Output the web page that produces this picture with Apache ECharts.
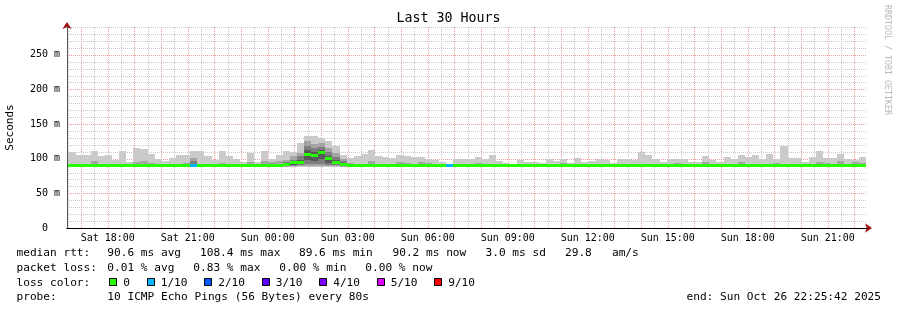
<!DOCTYPE html>
<html><head><meta charset="utf-8">
<script src="https://cdn.jsdelivr.net/npm/echarts@6/dist/echarts.min.js"></script>
<style>html,body{margin:0;padding:0;background:#fff}#c{width:897px;height:310px}</style>
</head><body><div id="c"></div>
<script>
// ---- axis ranges / ticks (hours since Sat 00:00) ----
const AXIS_START_HOUR = 16.47;
const AXIS_END_HOUR = 46.47;
const BUCKET_T0 = 16.29;          // start of first 16-minute bucket
const BUCKET_HOURS = 16 / 60;
const xLabelHours = [18, 21, 24, 27, 30, 33, 36, 39, 42, 45];
const majorHourLines = [17,18,19,20,21,22,23,24,25,26,27,28,29,30,31,32,33,34,35,36,37,38,39,40,41,42,43,44,45,46];
const minorHalfHourLines = [16.5,17.5,18.5,19.5,20.5,21.5,22.5,23.5,24.5,25.5,26.5,27.5,28.5,29.5,30.5,31.5,32.5,33.5,34.5,35.5,36.5,37.5,38.5,39.5,40.5,41.5,42.5,43.5,44.5,45.5];
const yLabelValues = [0, 50, 100, 150, 200, 250];
const yMajorLines = [50, 100, 150, 200, 250];
const yMinorLines = [10,20,30,40,60,70,80,90,110,120,130,140,160,170,180,190,210,220,230,240,260,270,280,290];
const Y_MAX = 290;

// ---- per-bucket data (ms) ----
const medianRtt = [
 89.8,89.8,89.8,89.8,90.2,89.8,89.8,89.8,89.8,89.8,
 89.8,89.8,90.0,89.8,89.8,89.8,89.8,89.8,89.8,89.8,
 89.8,89.8,89.8,89.8,89.8,89.8,89.8,89.8,90.5,89.6,
 90.0,92.3,94.4,95.2,106.0,104.3,108.4,99.7,94.4,92.0,
 89.6,89.8,89.8,89.8,89.8,89.8,89.8,89.8,89.8,89.8,
 89.8,89.8,89.8,89.8,89.8,89.8,89.8,89.8,89.8,89.8,
 89.8,89.8,89.8,89.8,89.8,89.8,89.8,89.8,89.8,89.8,
 89.8,89.8,89.8,89.8,89.8,89.8,89.8,89.8,89.8,89.8,
 89.8,89.8,89.8,89.8,89.8,89.8,89.8,89.8,89.8,89.8,
 89.8,89.8,89.8,89.8,89.8,89.8,89.8,89.8,89.8,89.8,
 89.8,89.8,89.8,89.8,89.8,89.8,90.2,90.2,90.2,90.2,
 90.2,90.2,90.2];
const lossCount = [
 0,0,0,0,0,0,0,0,0,0, 0,0,0,0,0,0,0,0,1,0,
 0,0,0,0,0,0,0,0,0,0, 0,0,0,0,0,0,0,0,0,0,
 0,0,0,0,0,0,0,0,0,0, 0,0,0,0,1,0,0,0,0,0,
 0,0,0,0,0,0,0,0,0,0, 0,0,0,0,0,0,0,0,0,0,
 0,0,0,0,0,0,0,0,0,0, 0,0,0,0,0,0,0,0,0,0,
 0,0,0,0,0,0,0,0,0,0, 0,0,0];
// sorted ping ranks: ping1 lowest ... ping10 highest
const ping1 = [
 88.2,88.2,88.2,88.2,88.2,88.2,88.2,88.2,88.2,88.2,
 88.2,88.2,88.2,88.2,88.2,88.2,88.2,88.2,88.2,88.2,
 88.2,88.2,88.2,88.2,88.2,88.2,88.2,88.2,88.2,88.2,
 88.2,88.4,88.5,88.5,88.5,88.5,88.5,88.5,88.5,88.4,
 88.2,88.2,88.2,88.2,88.2,88.2,88.2,88.2,88.2,88.2,
 88.2,88.2,88.2,88.2,88.2,88.2,88.2,88.2,88.2,88.2,
 88.2,88.2,88.2,88.2,88.2,88.2,88.2,88.2,88.2,88.2,
 88.2,88.2,88.2,88.2,88.2,88.2,88.2,88.2,88.2,88.2,
 88.2,88.2,88.2,88.2,88.2,88.2,88.2,88.2,88.2,88.2,
 88.2,88.2,88.2,88.2,88.2,88.2,88.2,88.2,88.2,88.2,
 88.2,88.2,88.2,88.2,88.2,88.2,88.2,88.2,88.2,88.2,
 88.2,88.2,88.2];
const ping2 = [
 88.5,88.5,88.5,88.5,88.5,88.5,88.5,88.5,88.5,88.5,
 88.5,88.5,88.5,88.5,88.5,88.5,88.5,88.5,88.5,88.5,
 88.5,88.5,88.5,88.5,88.5,88.5,88.5,88.5,88.5,88.5,
 88.5,88.5,89.3,89.3,89.3,89.3,89.3,89.3,89.3,88.5,
 88.5,88.5,88.5,88.5,88.5,88.5,88.5,88.5,88.5,88.5,
 88.5,88.5,88.5,88.5,88.5,88.5,88.5,88.5,88.5,88.5,
 88.5,88.5,88.5,88.5,88.5,88.5,88.5,88.5,88.5,88.5,
 88.5,88.5,88.5,88.5,88.5,88.5,88.5,88.5,88.5,88.5,
 88.5,88.5,88.5,88.5,88.5,88.5,88.5,88.5,88.5,88.5,
 88.5,88.5,88.5,88.5,88.5,88.5,88.5,88.5,88.5,88.5,
 88.5,88.5,88.5,88.5,88.5,88.5,88.5,88.5,88.5,88.5,
 88.5,88.5,88.5];
const ping3 = [
 88.8,88.8,88.8,88.8,88.8,88.8,88.8,88.8,88.8,88.8,
 88.8,88.8,88.8,88.8,88.8,88.8,88.8,88.8,88.8,88.8,
 88.8,88.8,88.8,88.8,88.8,88.8,88.8,88.8,88.8,88.8,
 88.8,88.8,90.0,91.0,92.0,92.0,92.0,91.0,90.5,88.8,
 88.8,88.8,88.8,88.8,88.8,88.8,88.8,88.8,88.8,88.8,
 88.8,88.8,88.8,88.8,88.8,88.8,88.8,88.8,88.8,88.8,
 88.8,88.8,88.8,88.8,88.8,88.8,88.8,88.8,88.8,88.8,
 88.8,88.8,88.8,88.8,88.8,88.8,88.8,88.8,88.8,88.8,
 88.8,88.8,88.8,88.8,88.8,88.8,88.8,88.8,88.8,88.8,
 88.8,88.8,88.8,88.8,88.8,88.8,88.8,88.8,88.8,88.8,
 88.8,88.8,88.8,88.8,88.8,88.8,88.8,88.8,88.8,88.8,
 88.8,88.8,88.8];
const ping4 = [
 89.1,89.1,89.1,89.1,89.1,89.1,89.1,89.1,89.1,89.1,
 89.1,89.1,89.1,89.1,89.1,89.1,89.1,89.1,89.1,89.1,
 89.1,89.1,89.1,89.1,89.1,89.1,89.1,89.1,89.1,89.1,
 89.1,89.1,91.5,92.5,98.0,96.0,99.0,94.0,92.0,90.0,
 89.1,89.1,89.1,89.1,89.1,89.1,89.1,89.1,89.1,89.1,
 89.1,89.1,89.1,89.1,89.1,89.1,89.1,89.1,89.1,89.1,
 89.1,89.1,89.1,89.1,89.1,89.1,89.1,89.1,89.1,89.1,
 89.1,89.1,89.1,89.1,89.1,89.1,89.1,89.1,89.1,89.1,
 89.1,89.1,89.1,89.1,89.1,89.1,89.1,89.1,89.1,89.1,
 89.1,89.1,89.1,89.1,89.1,89.1,89.1,89.1,89.1,89.1,
 89.1,89.1,89.1,89.1,89.1,89.1,89.1,89.1,89.1,89.1,
 89.1,89.1,89.1];
const ping7 = [
 90.2,90.2,90.2,90.2,90.2,90.2,90.2,90.2,90.2,90.2,
 90.2,90.2,90.2,90.2,90.2,90.2,90.2,90.2,90.2,90.2,
 90.2,90.2,90.2,90.2,90.2,90.2,90.2,90.2,91.5,90.2,
 91.0,93.5,96.0,98.8,113.0,110.0,112.0,104.0,98.0,93.5,
 90.2,90.2,90.2,90.2,90.2,90.2,90.2,90.2,90.2,90.2,
 90.2,90.2,90.2,90.2,90.2,90.2,90.2,90.2,90.2,90.2,
 90.2,90.2,90.2,90.2,90.2,90.2,90.2,90.2,90.2,90.2,
 90.2,90.2,90.2,90.2,90.2,90.2,90.2,90.2,90.2,90.2,
 90.2,90.2,90.2,90.2,90.2,90.2,90.2,90.2,90.2,90.2,
 90.2,90.2,90.2,90.2,90.2,90.2,90.2,90.2,90.2,90.2,
 90.2,90.2,90.2,90.2,90.2,90.2,90.2,90.2,90.2,90.2,
 90.2,90.2,90.2];
const ping8 = [
 90.6,90.6,90.6,90.6,90.6,90.6,90.6,90.6,90.6,90.6,
 90.6,90.6,90.6,90.6,90.6,90.6,90.6,90.6,96.0,90.6,
 90.6,90.6,90.6,90.6,90.6,90.6,90.6,90.6,93.0,90.6,
 92.0,95.0,98.8,103.6,118.0,115.0,117.0,110.0,103.0,96.0,
 90.6,90.6,90.6,90.6,90.6,90.6,90.6,90.6,90.6,90.6,
 90.6,90.6,90.6,90.6,90.6,90.6,90.6,90.6,90.6,90.6,
 90.6,90.6,90.6,90.6,90.6,90.6,90.6,90.6,90.6,90.6,
 90.6,90.6,90.6,90.6,90.6,90.6,90.6,90.6,90.6,90.6,
 90.6,90.6,90.6,90.6,90.6,90.6,90.6,90.6,90.6,90.6,
 90.6,90.6,90.6,90.6,90.6,90.6,90.6,90.6,90.6,90.6,
 90.6,90.6,90.6,90.6,90.6,90.6,90.6,90.6,90.6,90.6,
 90.6,90.6,90.6];
const ping9 = [
 93.0,93.0,91.6,91.6,96.0,91.6,93.0,91.6,91.6,91.6,
 95.0,96.0,94.0,91.6,91.6,91.6,91.6,94.0,101.0,91.6,
 91.6,91.6,94.0,91.6,91.6,91.6,95.0,93.0,97.0,95.0,
 96.3,98.8,103.6,108.4,125.0,121.0,122.0,115.0,108.0,99.0,
 94.0,91.6,91.6,96.0,91.6,91.6,91.6,95.0,94.0,91.6,
 95.0,94.0,91.6,93.0,91.6,91.6,91.6,91.6,94.0,91.6,
 91.6,91.6,91.6,91.6,91.6,91.6,91.6,91.6,91.6,91.6,
 94.5,91.6,91.6,91.6,91.6,91.6,91.6,91.6,91.6,91.6,
 91.6,91.6,91.6,91.6,91.6,91.6,94.0,91.6,91.6,91.6,
 95.0,91.6,91.6,91.6,91.6,95.0,91.6,91.6,91.6,91.6,
 94.0,91.6,91.6,91.6,91.6,91.6,95.0,94.0,91.6,96.0,
 91.6,95.0,94.0];
const ping10 = [
 109.0,109.0,105.5,105.5,111.3,104.0,105.5,98.3,110.4,95.4,
 115.6,114.2,107.0,99.8,96.9,101.2,105.5,105.5,110.4,111.3,
 104.0,98.3,110.4,104.0,99.8,95.4,108.5,95.4,110.4,100.0,
 105.9,110.8,110.0,122.8,132.5,132.5,130.0,125.3,118.0,106.0,
 101.0,104.0,107.0,112.7,104.0,102.0,100.7,105.5,104.0,102.6,
 102.6,99.6,98.3,95.0,92.5,99.6,99.6,99.0,102.6,99.7,
 105.5,96.9,94.0,92.5,98.3,95.4,95.4,94.0,99.7,96.9,
 99.7,94.0,101.2,95.4,96.9,99.7,98.3,94.0,99.7,99.7,
 98.3,109.0,106.0,99.7,95.4,99.7,99.7,99.7,95.4,95.4,
 104.0,98.3,95.4,102.6,99.7,105.5,102.6,105.5,99.7,107.0,
 99.7,118.5,101.2,101.2,95.4,102.6,111.3,101.2,101.2,107.0,
 99.7,98.3,102.6];

// ---- legend ----
const lossLabels = ['0', '1/10', '2/10', '3/10', '4/10', '5/10', '9/10'];
const lossColors = ['#26ff00', '#00b8ff', '#0059ff', '#5e00ff', '#7e00ff', '#dd00ff', '#ff0000'];
const smokeColors = ['#cacaca', '#a4a4a4', '#7e7e7e', '#585858'];
const MINOR_GRID_COLOR = '#c8c8c8';
const MAJOR_GRID_COLOR = '#f19a9a';

const MONO = '"DejaVu Sans Mono", monospace';
const chart = echarts.init(document.getElementById('c'), null, {renderer: 'canvas'});

function bandData(lo, hi) {
  const out = [];
  for (let i = 0; i < hi.length; i++) {
    const t0 = BUCKET_T0 + i * BUCKET_HOURS;
    out.push([t0, t0 + BUCKET_HOURS, lo[i], hi[i]]);
  }
  return out;
}
function clip(shape, cs) {
  return echarts.graphic.clipRectByRect(shape, {x: cs.x, y: cs.y, width: cs.width, height: cs.height});
}
function bandRenderer(fill) {
  return function (params, api) {
    const a = api.coord([api.value(0), api.value(3)]);
    const b = api.coord([api.value(1), api.value(2)]);
    const x0 = Math.round(a[0]), x1 = Math.round(b[0]);
    const y0 = Math.round(a[1]), y1 = Math.round(b[1]);
    const shape = clip({x: x0, y: y0, width: x1 - x0, height: y1 - y0}, params.coordSys);
    if (!shape) return null;
    return {type: 'rect', shape: shape, style: {fill: fill}};
  };
}
function medianRenderer(params, api) {
  const a = api.coord([api.value(0), api.value(2)]);
  const b = api.coord([api.value(1), api.value(2)]);
  const x0 = Math.round(a[0]), x1 = Math.round(b[0]);
  const y0 = Math.round(a[1] - 1.5);
  const loss = api.value(3);
  const col = loss > 5 ? lossColors[6] : lossColors[loss];
  const shape = clip({x: x0, y: y0, width: x1 - x0, height: 3}, params.coordSys);
  if (!shape) return null;
  return {type: 'rect', shape: shape, style: {fill: col}};
}
// grid lines drawn through the axes' own scale
function vLineRenderer(color) {
  return function (params, api) {
    const p0 = api.coord([api.value(0), 0]);
    const p1 = api.coord([api.value(0), Y_MAX]);
    const x = Math.round(p0[0]) + 0.5;
    return {type: 'line', shape: {x1: x, y1: p0[1], x2: x, y2: p1[1]},
      style: {stroke: color, lineWidth: 1, lineDash: [1, 1]}};
  };
}
function hLineRenderer(color) {
  return function (params, api) {
    const p0 = api.coord([AXIS_START_HOUR, api.value(1)]);
    const p1 = api.coord([AXIS_END_HOUR, api.value(1)]);
    const y = Math.round(p0[1]) + 0.5;
    return {type: 'line', shape: {x1: p0[0], y1: y, x2: p1[0], y2: y},
      style: {stroke: color, lineWidth: 1, lineDash: [1, 1]}};
  };
}
function gridSeries(values, vertical, color, z) {
  return {
    type: 'custom', xAxisIndex: 0, yAxisIndex: 0, z: z, silent: true,
    renderItem: vertical ? vLineRenderer(color) : hLineRenderer(color),
    encode: {x: 0, y: 1},
    data: values.map(v => vertical ? [v, 0] : [AXIS_START_HOUR, v])
  };
}

const series = [
  gridSeries(yMinorLines, false, MINOR_GRID_COLOR, 0),
  gridSeries(minorHalfHourLines, true, MINOR_GRID_COLOR, 0),
  gridSeries(yMajorLines, false, MAJOR_GRID_COLOR, 0),
  gridSeries(majorHourLines, true, MAJOR_GRID_COLOR, 0)
];
const bands = [[ping1, ping10], [ping2, ping9], [ping3, ping8], [ping4, ping7]];
bands.forEach((b, k) => series.push({
  type: 'custom', xAxisIndex: 0, yAxisIndex: 0, z: 1, silent: true,
  renderItem: bandRenderer(smokeColors[k]),
  encode: {x: [0, 1], y: [2, 3]},
  data: bandData(b[0], b[1])
}));
const medianData = [];
for (let i = 0; i < medianRtt.length; i++) {
  const t0 = BUCKET_T0 + i * BUCKET_HOURS;
  medianData.push([t0, t0 + BUCKET_HOURS, medianRtt[i], lossCount[i]]);
}
series.push({
  type: 'custom', xAxisIndex: 0, yAxisIndex: 0, z: 5, silent: true,
  renderItem: medianRenderer,
  encode: {x: [0, 1], y: 2},
  data: medianData
});

const gridBox = {left: 67, right: 30, top: 27, bottom: 82, containLabel: false, outerBoundsMode: 'none', show: false};
const pad2 = n => (n < 10 ? '0' : '') + n;

// footer text
const FONT_LEG = '11.15px ' + MONO;
const rows = [253.5, 268.2, 282.9, 297.6];
const textItems = [
  [16.5, 0, 'median rtt:'], [107.3, 0, '90.6 ms avg'], [200, 0, '108.4 ms max'], [299, 0, '89.6 ms min'],
  [392.5, 0, '90.2 ms now'], [485.5, 0, '3.0 ms sd'], [565, 0, '29.8   am/s'],
  [16.5, 1, 'packet loss:'], [107.3, 1, '0.01 % avg'], [193.3, 1, '0.83 % max'], [279.3, 1, '0.00 % min'], [365.3, 1, '0.00 % now'],
  [16.5, 2, 'loss color:'],
  [16.5, 3, 'probe:'], [107.3, 3, '10 ICMP Echo Pings (56 Bytes) every 80s']
];
const graphics = textItems.map(t => ({
  type: 'text', x: t[0], y: rows[t[1]], silent: true,
  style: {text: t[2], font: FONT_LEG, fill: '#000', verticalAlign: 'middle'}
}));
const squareX = [109.3, 146.7, 204.2, 261.7, 319.2, 376.7, 434.2];
lossLabels.forEach((lab, i) => {
  graphics.push({type: 'rect', silent: true, shape: {x: Math.round(squareX[i]) + 0.5, y: 278.5, width: 7, height: 7},
    style: {fill: lossColors[i], stroke: '#000', lineWidth: 1}});
  graphics.push({type: 'text', silent: true, x: squareX[i] + 14, y: rows[2],
    style: {text: lab, font: FONT_LEG, fill: '#000', verticalAlign: 'middle'}});
});
graphics.push({type: 'text', silent: true, x: 881, y: rows[3],
  style: {text: 'end: Sun Oct 26 22:25:42 2025', font: FONT_LEG, fill: '#000', align: 'right', verticalAlign: 'middle'}});
graphics.push({type: 'text', silent: true, x: 887.5, y: 60, rotation: -Math.PI / 2,
  style: {text: 'RRDTOOL / TOBI OETIKER', font: '8.3px ' + MONO, fill: '#b8b8b8', align: 'center', verticalAlign: 'middle'}});

const option = {
  animation: false,
  backgroundColor: '#fff',
  title: {text: 'Last 30 Hours', left: 'center', top: 12.5, padding: 0,
    textStyle: {fontFamily: MONO, fontSize: 13.3, fontWeight: 'normal', color: '#000'}},
  grid: [Object.assign({}, gridBox), Object.assign({}, gridBox), Object.assign({}, gridBox)],
  xAxis: [
    {type: 'value', gridIndex: 0, min: AXIS_START_HOUR, max: AXIS_END_HOUR,
     axisLine: {show: false}, axisLabel: {show: false}, axisTick: {show: false}, splitLine: {show: false}},
    {type: 'value', gridIndex: 1, min: AXIS_START_HOUR, max: AXIS_END_HOUR, z: 4,
     axisLine: {show: true, lineStyle: {color: '#a01010', width: 1}, symbol: ['none', 'arrow'], symbolSize: [7, 7], symbolOffset: [0, 5]},
     axisLabel: {show: false}, axisTick: {show: false}, splitLine: {show: false}},
    {type: 'value', gridIndex: 2, min: AXIS_START_HOUR, max: AXIS_END_HOUR, z: 6,
     axisLine: {show: true, lineStyle: {color: '#000', width: 1}},
     axisTick: {show: false, customValues: xLabelHours},
     splitLine: {show: false},
     axisLabel: {customValues: xLabelHours, margin: 5, fontFamily: MONO, fontSize: 10, color: '#000',
       formatter: v => { const h = Math.round(v); return (h < 24 ? 'Sat' : 'Sun') + ' ' + pad2(h % 24) + ':00'; }}}
  ],
  yAxis: [
    {type: 'value', gridIndex: 0, min: 0, max: Y_MAX,
     axisLine: {show: false}, axisLabel: {show: false}, axisTick: {show: false}, splitLine: {show: false}},
    {type: 'value', gridIndex: 1, min: 0, max: Y_MAX, z: 4,
     axisLine: {show: true, lineStyle: {color: '#a01010', width: 1}, symbol: ['none', 'arrow'], symbolSize: [7, 7], symbolOffset: [0, 5]},
     axisLabel: {show: false}, axisTick: {show: false}, splitLine: {show: false}},
    {type: 'value', gridIndex: 2, min: 0, max: Y_MAX, z: 6,
     axisLine: {show: true, lineStyle: {color: '#555', width: 1}},
     axisTick: {show: false, customValues: yLabelValues},
     splitLine: {show: false},
     axisLabel: {customValues: yLabelValues, margin: 7, fontFamily: MONO, fontSize: 10, color: '#000',
       formatter: v => v === 0 ? '0  ' : v + ' m'},
     name: 'Seconds', nameLocation: 'middle', nameGap: 51,
     nameTextStyle: {fontFamily: MONO, fontSize: 11, color: '#000'}}
  ],
  graphic: graphics,
  series: series
};
chart.setOption(option);
</script>
</body></html>
